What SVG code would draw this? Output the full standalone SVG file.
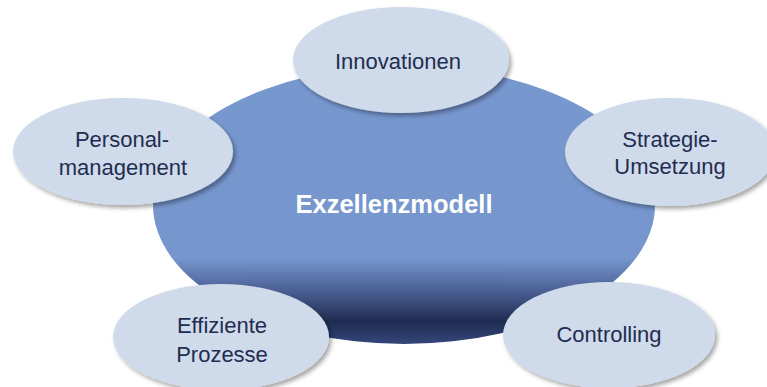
<svg xmlns="http://www.w3.org/2000/svg" width="767" height="387" viewBox="0 0 767 387">
<defs>
<linearGradient id="mainGrad" x1="0" y1="0" x2="0" y2="1">
<stop offset="0" stop-color="#7797cf"/>
<stop offset="0.69" stop-color="#7696cd"/>
<stop offset="0.80" stop-color="#4e6499"/>
<stop offset="0.92" stop-color="#1f2b50"/>
<stop offset="1" stop-color="#34477b"/>
</linearGradient>
<filter id="shadow" x="-10%" y="-10%" width="125%" height="130%">
<feDropShadow dx="2.5" dy="3" stdDeviation="2" flood-color="#000" flood-opacity="0.35"/>
</filter>
</defs>
<style>
.sat{fill:#cfdaea;filter:url(#shadow);}
.lbl{font-family:"Liberation Sans",Arial,sans-serif;font-size:22px;fill:#1f2d50;text-anchor:middle;}
.main{font-family:"Liberation Sans",Arial,sans-serif;font-size:25.5px;font-weight:bold;fill:#ffffff;text-anchor:middle;}
</style>
<rect width="767" height="387" fill="#ffffff"/>
<g id="connectors"/>
<g id="exzellenzmodell">
<ellipse cx="404" cy="205" rx="251" ry="139" fill="url(#mainGrad)"/>
<text class="main" x="394" y="213">Exzellenzmodell</text>
</g>
<g id="innovationen">
<ellipse class="sat" cx="401" cy="60" rx="108" ry="53"/>
<text class="lbl" x="398" y="69">Innovationen</text>
</g>
<g id="personalmanagement">
<ellipse class="sat" cx="123" cy="151.5" rx="110" ry="53.5"/>
<text class="lbl" x="122" y="147">Personal-</text>
<text class="lbl" x="123" y="175">management</text>
</g>
<g id="strategie-umsetzung">
<ellipse class="sat" cx="670" cy="152" rx="105" ry="54"/>
<text class="lbl" x="670" y="147">Strategie-</text>
<text class="lbl" x="670" y="174">Umsetzung</text>
</g>
<g id="effiziente-prozesse">
<ellipse class="sat" cx="221" cy="337" rx="108" ry="53"/>
<text class="lbl" x="222" y="333">Effiziente</text>
<text class="lbl" x="222" y="362">Prozesse</text>
</g>
<g id="controlling">
<ellipse class="sat" cx="609" cy="335" rx="106" ry="53"/>
<text class="lbl" x="609" y="342">Controlling</text>
</g>
</svg>
